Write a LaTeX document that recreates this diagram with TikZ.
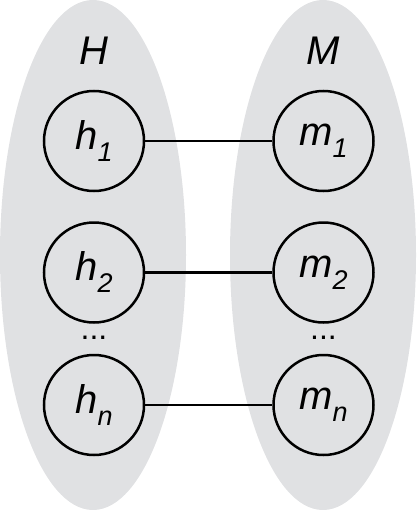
\documentclass[tikz,border=0pt]{standalone}
\usepackage{fontspec}
\setmainfont{Liberation Sans}
\usetikzlibrary{positioning}
\definecolor{setgray}{RGB}{224,225,227}
\newcommand{\idx}[1]{\raisebox{-0.3em}{\fontsize{27}{28}\selectfont #1}}

\begin{document}
\begin{tikzpicture}[x=1pt, y=-1pt,
    elem/.style={circle, draw, line width=2.5pt, minimum size=100pt, inner sep=0pt,
      font=\fontsize{40}{41}\selectfont\itshape},
    setname/.style={font=\fontsize{40}{41}\selectfont\itshape},
    dots/.style={font=\fontsize{32}{32}\selectfont},
    link/.style={line width=2.5pt},
    ]
  \useasboundingbox (0,0) rectangle (416,511);
  \fill[setgray] (93,255) ellipse [x radius=93, y radius=255];
  \fill[setgray] (323,255) ellipse [x radius=93, y radius=255];

  \node[setname] (H) at (94,51) {H};
  \node[setname] (M) at (323,51) {M};

  \node[elem] (h1) at (94,141) {h\idx{1}};
  \node[elem, below=29pt of h1] (h2) {h\idx{2}};
  \node[elem, below=30pt of h2] (hn) {h\idx{n}};

  \node[elem, right=127pt of h1] (m1) {m\idx{1}};
  \node[elem, right=127pt of h2] (m2) {m\idx{2}};
  \node[elem, right=127pt of hn] (mn) {m\idx{n}};

  \node[dots, below=9pt of h2] (hdots) {...};
  \node[dots, below=9pt of m2] (mdots) {...};

  \draw[link] (h1) -- (m1);
  \draw[link] (h2) -- (m2);
  \draw[link] (hn) -- (mn);
\end{tikzpicture}
\end{document}
